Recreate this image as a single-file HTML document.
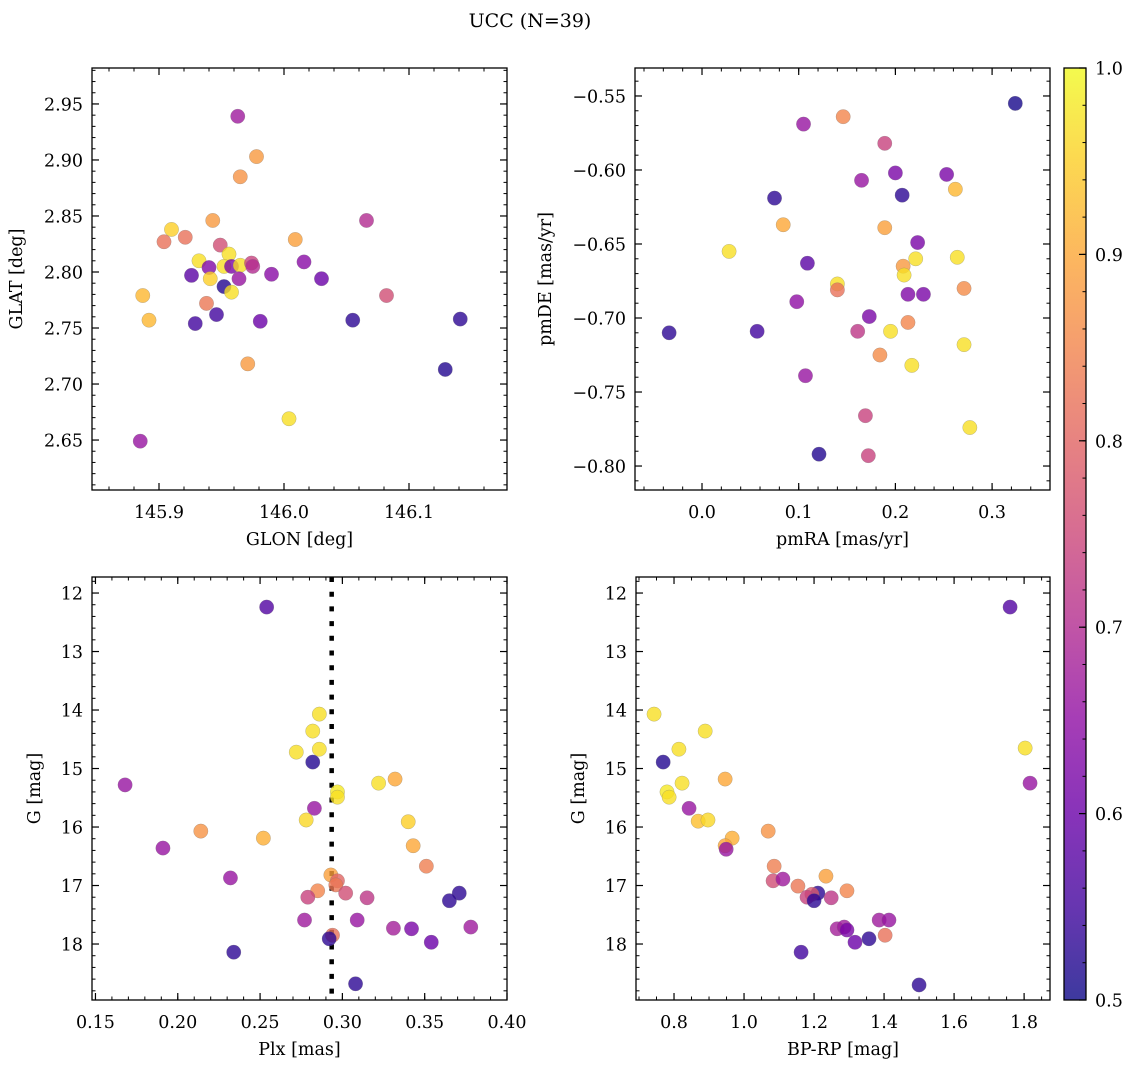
<!DOCTYPE html>
<html><head><meta charset="utf-8"><style>
html,body{margin:0;padding:0;background:#fff;}
svg{display:block;font-family:"DejaVu Serif","Liberation Serif",serif;}
</style></head><body>
<svg id="fig" width="1136" height="1067" viewBox="0 0 1136 1067" xmlns="http://www.w3.org/2000/svg">
<defs>
<linearGradient id="plasma" x1="0" y1="1" x2="0" y2="0">
<stop offset="0" stop-color="#0d0887"/><stop offset="0.1" stop-color="#41049d"/><stop offset="0.2" stop-color="#6a00a8"/><stop offset="0.3" stop-color="#8f0da4"/><stop offset="0.4" stop-color="#b12a90"/><stop offset="0.5" stop-color="#cc4778"/><stop offset="0.6" stop-color="#e16462"/><stop offset="0.7" stop-color="#f2844b"/><stop offset="0.8" stop-color="#fca636"/><stop offset="0.9" stop-color="#fcce25"/><stop offset="1" stop-color="#f0f921"/>
</linearGradient>
</defs>
<text x="530" y="27" font-size="19" text-anchor="middle">UCC (N=39)</text>
</svg>
<script>
// ---- data ----
const glon = [145.965,145.943,145.910,145.921,145.904,146.009,146.066,145.949,145.956,145.932,145.940,145.952,145.958,145.965,145.974,145.975,146.016,145.990,145.926,145.941,145.964,145.952,145.958,146.030,146.082,145.887,145.938,145.946,145.892,145.929,145.981,146.055,145.963,145.978,146.141,146.129,145.971,146.004,145.885];
const glat = [2.885,2.846,2.838,2.831,2.827,2.829,2.846,2.824,2.816,2.810,2.804,2.805,2.805,2.806,2.808,2.805,2.809,2.798,2.797,2.794,2.794,2.787,2.782,2.794,2.779,2.779,2.772,2.762,2.757,2.754,2.756,2.757,2.939,2.903,2.758,2.713,2.718,2.669,2.649];
const probPos = [0.87,0.88,0.95,0.82,0.82,0.89,0.70,0.76,0.97,0.97,0.63,0.97,0.62,0.97,0.74,0.70,0.64,0.64,0.58,0.95,0.66,0.52,0.97,0.60,0.76,0.92,0.83,0.55,0.92,0.55,0.60,0.53,0.67,0.88,0.53,0.52,0.88,0.97,0.66];

const pmra = [0.324,0.105,0.146,0.189,0.200,0.253,0.165,0.262,0.207,0.075,0.084,0.189,0.223,0.028,0.221,0.264,0.109,0.208,0.209,0.140,0.140,0.213,0.229,0.271,0.098,0.173,0.213,0.161,-0.034,0.057,0.195,0.271,0.184,0.217,0.107,0.169,0.277,0.121,0.172];
const pmde = [-0.555,-0.569,-0.564,-0.582,-0.602,-0.603,-0.607,-0.613,-0.617,-0.619,-0.637,-0.639,-0.649,-0.655,-0.660,-0.659,-0.663,-0.665,-0.671,-0.677,-0.681,-0.684,-0.684,-0.680,-0.689,-0.699,-0.703,-0.709,-0.710,-0.709,-0.709,-0.718,-0.725,-0.732,-0.739,-0.766,-0.774,-0.792,-0.793];
const probPm = [0.51,0.66,0.85,0.74,0.62,0.62,0.66,0.92,0.53,0.53,0.90,0.89,0.62,0.97,0.97,0.97,0.58,0.88,0.97,0.97,0.82,0.63,0.62,0.86,0.65,0.62,0.85,0.72,0.53,0.55,0.97,0.97,0.86,0.97,0.66,0.74,0.97,0.52,0.74];

const plx = [0.286,0.282,0.272,0.286,0.282,0.322,0.332,0.297,0.297,0.283,0.278,0.252,0.340,0.343,0.351,0.293,0.297,0.296,0.285,0.279,0.302,0.315,0.371,0.365,0.277,0.309,0.331,0.342,0.378,0.354,0.294,0.292,0.308,0.234,0.254,0.168,0.191,0.214,0.232];
const gPlx = [14.07,14.36,14.72,14.67,14.89,15.25,15.18,15.40,15.49,15.68,15.88,16.19,15.91,16.32,16.67,16.82,16.92,16.99,17.09,17.20,17.13,17.21,17.13,17.26,17.59,17.59,17.73,17.74,17.71,17.97,17.85,17.91,18.68,18.14,12.24,15.28,16.36,16.07,16.87];
const probPlx = [0.97,0.97,0.97,0.97,0.52,0.97,0.90,0.98,0.97,0.66,0.96,0.91,0.95,0.90,0.84,0.89,0.80,0.83,0.85,0.74,0.76,0.72,0.53,0.53,0.67,0.66,0.68,0.62,0.67,0.60,0.82,0.53,0.53,0.53,0.57,0.66,0.66,0.87,0.66];
const plxMedian = [0.2935];

const bprp = [0.743,0.889,0.814,0.769,0.946,0.823,0.780,0.786,0.843,0.869,0.897,1.069,0.966,0.946,0.949,1.086,1.234,1.083,1.111,1.154,1.294,1.211,1.194,1.180,1.200,1.249,1.386,1.414,1.266,1.286,1.294,1.403,1.357,1.317,1.163,1.500,1.760,1.803,1.817];
const gCmd = [14.07,14.36,14.67,14.89,15.18,15.25,15.40,15.49,15.68,15.90,15.88,16.07,16.19,16.32,16.38,16.67,16.84,16.92,16.89,17.01,17.09,17.13,17.15,17.20,17.26,17.21,17.59,17.59,17.74,17.71,17.76,17.85,17.91,17.97,18.14,18.70,12.24,14.65,15.25];
const probCmd = [0.97,0.97,0.97,0.52,0.90,0.97,0.98,0.97,0.66,0.93,0.96,0.87,0.91,0.90,0.66,0.84,0.89,0.76,0.67,0.83,0.85,0.53,0.78,0.74,0.53,0.72,0.67,0.66,0.68,0.67,0.62,0.82,0.53,0.60,0.55,0.53,0.57,0.97,0.66];

const xTicks1 = ["145.9","146.0","146.1"];
const yTicks1 = ["2.65","2.70","2.75","2.80","2.85","2.90","2.95"];
const xTicks2 = ["0.0","0.1","0.2","0.3"];
const yTicks2 = ["−0.80","−0.75","−0.70","−0.65","−0.60","−0.55"];
const xTicks3 = ["0.15","0.20","0.25","0.30","0.35","0.40"];
const gTicks = ["12","13","14","15","16","17","18"];
const xTicks4 = ["0.8","1.0","1.2","1.4","1.6","1.8"];
const cbTicks = ["0.5","0.6","0.7","0.8","0.9","1.0"];

// ---- drawing ----
const NS = "http://www.w3.org/2000/svg";
const svg = document.getElementById("fig");
const FS = 17.5;
function mk(tag, attrs, parent) {
  const e = document.createElementNS(NS, tag);
  for (const k in attrs) e.setAttribute(k, attrs[k]);
  (parent || svg).appendChild(e);
  return e;
}
const stops = [[13,8,135],[65,4,157],[106,0,168],[143,13,164],[177,42,144],[204,71,120],[225,100,98],[242,132,75],[252,166,54],[252,206,37],[240,249,33]];
function plasma(t) {
  t = Math.max(0, Math.min(1, t));
  const f = t * 10, i = Math.min(9, Math.floor(f)), u = f - i;
  const a = stops[i], b = stops[i + 1];
  return "rgb(" + [0,1,2].map(k => Math.round(a[k] + (b[k] - a[k]) * u)).join(",") + ")";
}
function probColor(p) { return plasma((p - 0.5) / 0.5); }

function panel(cfg) {
  const g = mk("g", {});
  
  
  const [L, T, R, B] = cfg.box;
  const sx = v => L + (v - cfg.xr[0]) / (cfg.xr[1] - cfg.xr[0]) * (R - L);
  const sy = cfg.yInv ? (v => T + (v - cfg.yr[0]) / (cfg.yr[1] - cfg.yr[0]) * (B - T))
                      : (v => B - (v - cfg.yr[0]) / (cfg.yr[1] - cfg.yr[0]) * (B - T));
  const eps = 1e-9;
  const xmin = Math.min(...cfg.xr), xmax = Math.max(...cfg.xr);
  const ymin = Math.min(...cfg.yr), ymax = Math.max(...cfg.yr);
  for (let v = Math.ceil(xmin / cfg.xMinor - eps) * cfg.xMinor; v <= xmax + eps; v += cfg.xMinor) {
    const x = sx(v);
    mk("line", {x1: x, x2: x, y1: B, y2: B - 3.5, stroke: "#000", "stroke-width": 1}, g);
    mk("line", {x1: x, x2: x, y1: T, y2: T + 3.5, stroke: "#000", "stroke-width": 1}, g);
  }
  for (let v = Math.ceil(ymin / cfg.yMinor - eps) * cfg.yMinor; v <= ymax + eps; v += cfg.yMinor) {
    const y = sy(v);
    mk("line", {x1: L, x2: L + 3.5, y1: y, y2: y, stroke: "#000", "stroke-width": 1}, g);
    mk("line", {x1: R, x2: R - 3.5, y1: y, y2: y, stroke: "#000", "stroke-width": 1}, g);
  }
  cfg.xTicks.forEach(lab => {
    const v = parseFloat(lab.replace("−", "-")), x = sx(v);
    mk("line", {x1: x, x2: x, y1: B, y2: B - 7, stroke: "#000", "stroke-width": 1.2}, g);
    mk("line", {x1: x, x2: x, y1: T, y2: T + 7, stroke: "#000", "stroke-width": 1.2}, g);
    const t = mk("text", {x: x, y: B + 28, "font-size": FS, "text-anchor": "middle"}, g);
    t.textContent = lab;
    
    
  });
  cfg.yTicks.forEach(lab => {
    const v = parseFloat(lab.replace("−", "-")), y = sy(v);
    mk("line", {x1: L, x2: L + 7, y1: y, y2: y, stroke: "#000", "stroke-width": 1.2}, g);
    mk("line", {x1: R, x2: R - 7, y1: y, y2: y, stroke: "#000", "stroke-width": 1.2}, g);
    const t = mk("text", {x: L - 9, y: y + 6.5, "font-size": FS, "text-anchor": "end"}, g);
    t.textContent = lab;
    
    
  });
  if (cfg.vline) {
    const x = sx(cfg.vline[0]);
    const ln = mk("line", {x1: x, x2: x, y1: T, y2: B, stroke: "#000", "stroke-width": 4.5, "stroke-dasharray": "5 9.7"}, g);
    
    
  }
  const clip = "clip-" + cfg.name;
  const cp = mk("clipPath", {id: clip}, g);
  mk("rect", {x: L, y: T, width: R - L, height: B - T}, cp);
  const pg = mk("g", {"clip-path": "url(#" + clip + ")"}, g);
  cfg.xs.forEach((xv, i) => {
    const c = mk("circle", {cx: sx(xv), cy: sy(cfg.ys[i]), r: 7.2, fill: probColor(cfg.ps[i]), "fill-opacity": 0.8, stroke: "#777", "stroke-opacity": 0.6, "stroke-width": 0.4}, pg);
    
    
  });
  const fr = mk("rect", {x: L, y: T, width: R - L, height: B - T, fill: "none", stroke: "#000", "stroke-width": 1.3}, g);
  
  
  const xl = mk("text", {x: (L + R) / 2, y: B + 55, "font-size": FS, "text-anchor": "middle"}, g);
  xl.textContent = cfg.xLabel;
  
  
  const cy = (T + B) / 2;
  const yl = mk("text", {x: cfg.yLabelX, y: cy, "font-size": FS, "text-anchor": "middle", transform: "rotate(-90 " + cfg.yLabelX + " " + cy + ")"}, g);
  yl.textContent = cfg.yLabel;
  
  
}

panel({name: "panel-glon-glat", box: [92, 68, 507, 490], xr: [145.8464, 146.1784], yr: [2.6054, 2.9821],
  xMinor: 0.02, yMinor: 0.01, xTicks: xTicks1, yTicks: yTicks1, xs: glon, ys: glat, ps: probPos,
  xLabel: "GLON [deg]", yLabel: "GLAT [deg]", yLabelX: 22});
panel({name: "panel-pm", box: [635, 68, 1050, 490], xr: [-0.0693, 0.3599], yr: [-0.8162, -0.5311],
  xMinor: 0.02, yMinor: 0.01, xTicks: xTicks2, yTicks: yTicks2, xs: pmra, ys: pmde, ps: probPm,
  xLabel: "pmRA [mas/yr]", yLabel: "pmDE [mas/yr]", yLabelX: 551});
panel({name: "panel-plx-g", box: [92, 577, 507, 1000], xr: [0.1479, 0.4], yr: [11.726, 18.957], yInv: true,
  xMinor: 0.01, yMinor: 0.2, xTicks: xTicks3, yTicks: gTicks, xs: plx, ys: gPlx, ps: probPlx, vline: plxMedian,
  xLabel: "Plx [mas]", yLabel: "G [mag]", yLabelX: 40});
panel({name: "panel-cmd", box: [636, 577, 1050, 1000], xr: [0.6914, 1.874], yr: [11.726, 18.957], yInv: true,
  xMinor: 0.05, yMinor: 0.2, xTicks: xTicks4, yTicks: gTicks, xs: bprp, ys: gCmd, ps: probCmd,
  xLabel: "BP-RP [mag]", yLabel: "G [mag]", yLabelX: 584});

(function () {
  const L = 1064, R = 1086, T = 68, B = 1000;
  const g = mk("g", {});
  
  
  mk("rect", {x: L, y: T, width: R - L, height: B - T, fill: "url(#plasma)", "fill-opacity": 0.8}, g);
  const sy = v => B - (v - 0.5) / 0.5 * (B - T);
  for (let v = 0.52; v < 0.999; v += 0.02) {
    mk("line", {x1: R, x2: R - 3.5, y1: sy(v), y2: sy(v), stroke: "#000", "stroke-width": 1}, g);
  }
  cbTicks.forEach(lab => {
    const y = sy(parseFloat(lab));
    mk("line", {x1: R, x2: R - 7, y1: y, y2: y, stroke: "#000", "stroke-width": 1.2}, g);
    const t = mk("text", {x: R + 9, y: y + 6.5, "font-size": FS}, g);
    t.textContent = lab;
    
    
  });
  mk("rect", {x: L, y: T, width: R - L, height: B - T, fill: "none", stroke: "#000", "stroke-width": 1.3}, g);
})();
</script>
</body></html>
